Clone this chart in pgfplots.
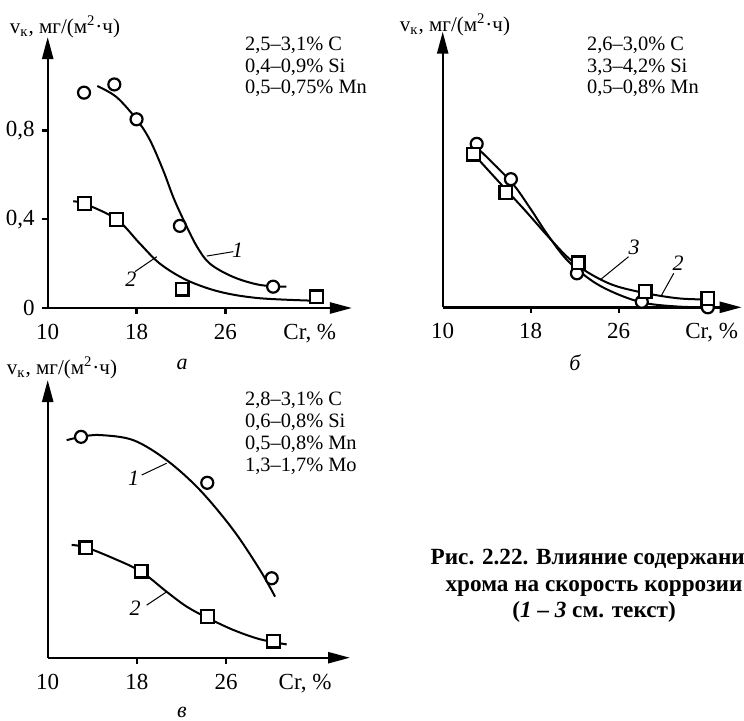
\documentclass[border=0pt]{standalone}
\usepackage{fontspec}
\setmainfont{Liberation Serif}
\usepackage{pgfplots}
\pgfplotsset{compat=1.18}
\usetikzlibrary{arrows.meta}
\pgfplotsset{
  panel/.style={
    scale only axis,
    axis lines=left,
    axis line style={line width=1.2pt, -{Triangle[length=11pt,width=5.5pt]}},
    anchor=south west,
    xmin=10, ymin=0,
    xtick={18,26},
    tick align=outside,
    major tick length=3pt,
    tick style={line width=1.2pt, black},
    tick label style={font=\fontsize{11.5}{13}\selectfont},
    xticklabel style={yshift=-1.5pt},
    /pgf/number format/assume math mode=true,
    clip=false,
    extra x tick style={major tick style={draw=none}},
  },
  curve/.style={black, line width=1pt, smooth, tension=0.55, no marks},
  circ/.style={only marks, mark=*, mark size=3pt, mark options={line width=1.1pt, draw=black, fill=white}},
  sq/.style={only marks, mark=square*, mark size=3.2pt, mark options={line width=1.1pt, draw=black, fill=white}},
}
\tikzset{
  lead/.style={black, line width=0.5pt},
  num/.style={font=\itshape\fontsize{11}{13}\selectfont},
  lab/.style={font=\fontsize{10.5}{12}\selectfont},
  txt/.style={anchor=west, font=\fontsize{10.2}{12}\selectfont},
}
\begin{document}
\begin{tikzpicture}[x=0.5pt, y=0.5pt]
\path[use as bounding box, clip] (0,0) rectangle (744,720);

% ---------- panel a ----------
\begin{axis}[panel, at={(23.85pt,206pt)}, width=152.15pt, height=135.5pt,
  xmax=37.4, ymax=1.2207,
  ytick={0,0.4,0.8}, yticklabels={0,{0,4},{0,8}},
  extra x ticks={10,33.6}, extra x tick labels={10,{Cr, \%}}]
\addplot[curve] coordinates {(14.47,1.0) (16.2,0.95) (18.0,0.85) (19.2,0.757) (20.4,0.62) (21.3,0.50) (22.2,0.40) (23.4,0.28) (24.6,0.20) (26.7,0.14) (29.1,0.104) (31.5,0.096)};
\addplot[curve] coordinates {(12.3,0.48) (13.3,0.47) (16.2,0.40) (18.3,0.29) (20.1,0.20) (22.5,0.126) (25.5,0.073) (29.1,0.044) (34.5,0.032)};
\addplot[circ] coordinates {(13.27,0.97) (16.0,1.007) (18.0,0.85) (21.9,0.37) (30.3,0.096)};
\addplot[sq] coordinates {(13.3,0.47) (16.2,0.40) (22.1,0.085) (34.2,0.05)};
\draw[lead] (axis cs:24.32,0.234) -- (axis cs:26.72,0.254);
\node[num] at (axis cs:27.1,0.26) {1};
\draw[lead] (axis cs:17.86,0.164) -- (axis cs:19.82,0.231);
\node[num] at (axis cs:17.5,0.13) {2};
\end{axis}

% ---------- panel b ----------
\begin{axis}[panel, at={(221.35pt,206.35pt)}, width=149.5pt, height=137.8pt,
  xmax=37.18, ymax=1.241, ytick=\empty,
  extra x ticks={10,34.45}, extra x tick labels={10,{Cr, \%}}]
\addplot[curve] coordinates {(13.1,0.72) (16.2,0.566) (17.95,0.446) (19.45,0.333) (21.3,0.213) (23.7,0.115) (26.1,0.055) (28.5,0.018) (31.5,0.003) (34.1,0.0)};
\addplot[curve] coordinates {(12.8,0.69) (15.75,0.53) (17.6,0.43) (19.45,0.326) (21.3,0.228) (23.1,0.16) (25.5,0.10) (28.5,0.063) (31.5,0.04) (34.2,0.035)};
\addplot[circ] coordinates {(13.09,0.736) (16.2,0.577) (22.2,0.153) (28.1,0.025) (34.1,0.0)};
\addplot[sq] coordinates {(12.8,0.69) (15.75,0.518) (22.3,0.20) (28.4,0.07) (34.1,0.04)};
\draw[lead] (axis cs:24.3,0.123) -- (axis cs:26.9,0.228);
\node[num] at (axis cs:27.4,0.27) {3};
\draw[lead] (axis cs:29.9,0.055) -- (axis cs:31.0,0.153);
\node[num] at (axis cs:31.4,0.2) {2};
\end{axis}

% ---------- panel v ----------
\begin{axis}[panel, at={(23.85pt,31.15pt)}, width=151.15pt, height=138.85pt,
  xmax=37.11, ymax=1.251, ytick=\empty,
  extra x ticks={10,33.08}, extra x tick labels={10,{Cr, \%}}]
\addplot[curve] coordinates {(11.70,0.98) (12.99,0.995) (14.69,1.003) (17.68,0.98) (20.67,0.89) (23.66,0.755) (26.65,0.575) (29.04,0.395) (30.39,0.275)};
\addplot[curve] coordinates {(12.15,0.508) (13.43,0.497) (15.88,0.448) (18.37,0.388) (20.67,0.297) (22.47,0.23) (24.31,0.18) (26.65,0.125) (29.04,0.083) (31.43,0.06)};
\addplot[circ] coordinates {(12.99,0.995) (24.31,0.788) (30.09,0.358)};
\addplot[sq] coordinates {(13.43,0.495) (18.37,0.39) (24.31,0.185) (30.23,0.075)};
\draw[lead] (axis cs:18.43,0.823) -- (axis cs:20.67,0.876);
\node[num] at (axis cs:17.7,0.81) {1};
\draw[lead] (axis cs:18.88,0.237) -- (axis cs:20.67,0.297);
\node[num] at (axis cs:17.85,0.222) {2};
\end{axis}

% ---------- texts ----------
\node[lab] at (65,693) {v\textsubscript{к}, мг/(м\textsuperscript{2}·ч)};
\node[lab] at (455,695) {v\textsubscript{к}, мг/(м\textsuperscript{2}·ч)};
\node[lab] at (62,352) {v\textsubscript{к}, мг/(м\textsuperscript{2}·ч)};

\node[txt] at (238,675) {2,5–3,1\% C};
\node[txt] at (238,653) {0,4–0,9\% Si};
\node[txt] at (238,632) {0,5–0,75\% Mn};

\node[txt] at (580,675) {2,6–3,0\% C};
\node[txt] at (580,653) {3,3–4,2\% Si};
\node[txt] at (580,632) {0,5–0,8\% Mn};

\node[txt] at (238,320) {2,8–3,1\% C};
\node[txt] at (238,298) {0,6–0,8\% Si};
\node[txt] at (238,276) {0,5–0,8\% Mn};
\node[txt] at (238,254) {1,3–1,7\% Mo};

\node[font=\itshape\fontsize{11}{13}\selectfont] at (182,356) {а};
\node[font=\itshape\fontsize{11}{13}\selectfont] at (575,357) {б};
\node[font=\itshape\fontsize{11}{13}\selectfont] at (182,8) {в};

\node[align=center, font=\bfseries\fontsize{11.6}{13.2}\selectfont] at (594,134)
  {Рис. 2.22. Влияние содержания\\хрома на скорость коррозии\\(\textit{1} – \textit{3} см. текст)};
\end{tikzpicture}
\end{document}
